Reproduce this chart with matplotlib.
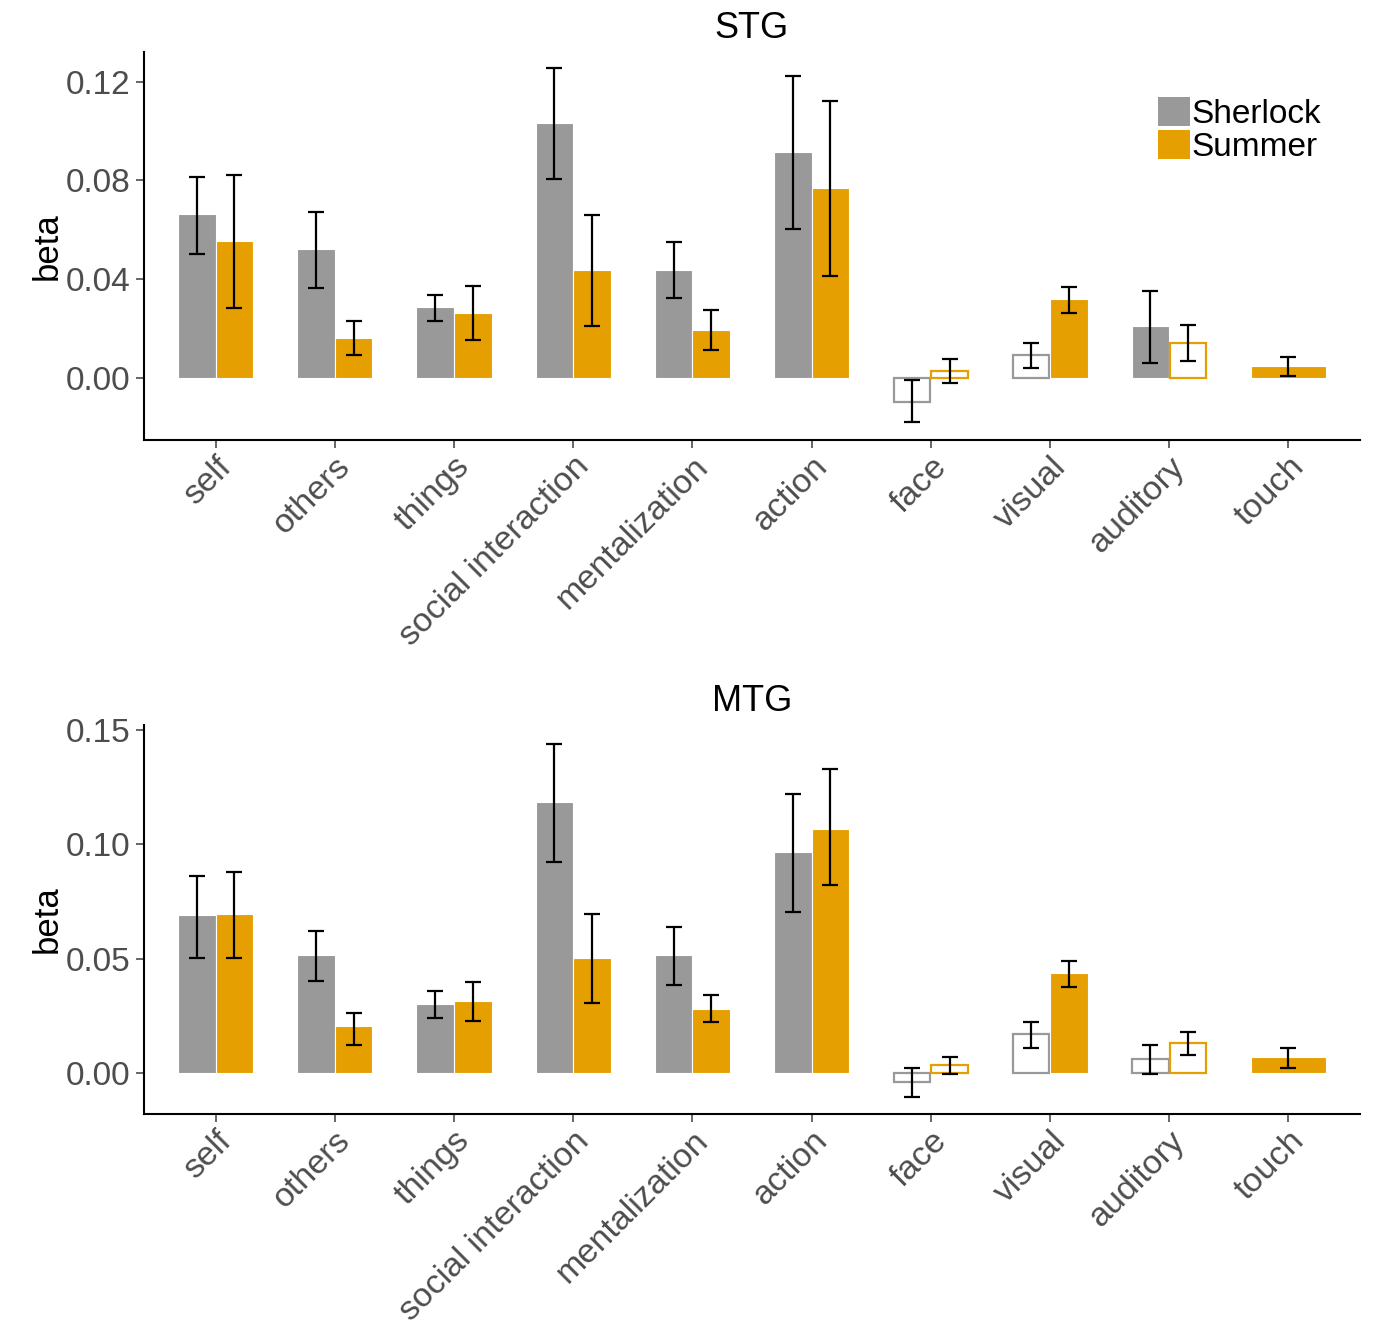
import numpy as np
import matplotlib
matplotlib.use("Agg")
import matplotlib.pyplot as plt
from matplotlib.patches import Patch

plt.rcParams['font.family'] = ['Liberation Sans', 'DejaVu Sans']

categories = ['self', 'others', 'things', 'social interaction', 'mentalization',
              'action', 'face', 'visual', 'auditory', 'touch']
groups = ['Sherlock', 'Summer']
colors = {'Sherlock': '#999999', 'Summer': '#E69F00'}

# STG: mean, upper, lower, significant (None = no data)
stg_sherlock = [0.0665, 0.0523, 0.0288, 0.1034, 0.0438, 0.0916, -0.0097, 0.0093, 0.0211, None]
stg_sherlock_hi = [0.0815, 0.0673, 0.0336, 0.1253, 0.0551, 0.1224, -0.0010, 0.0140, 0.0353, None]
stg_sherlock_lo = [0.0503, 0.0365, 0.0231, 0.0807, 0.0324, 0.0604, -0.0180, 0.0042, 0.0062, None]
stg_sherlock_sig = [True, True, True, True, True, True, False, False, True, None]
stg_summer = [0.0555, 0.0162, 0.0264, 0.0438, 0.0195, 0.0770, 0.0028, 0.0320, 0.0143, 0.0049]
stg_summer_hi = [0.0823, 0.0231, 0.0373, 0.0661, 0.0276, 0.1123, 0.0077, 0.0369, 0.0215, 0.0086]
stg_summer_lo = [0.0284, 0.0093, 0.0154, 0.0211, 0.0114, 0.0414, -0.0020, 0.0264, 0.0069, 0.0009]
stg_summer_sig = [True, True, True, True, True, True, False, True, False, True]

# MTG
mtg_sherlock = [0.0691, 0.0516, 0.0302, 0.1185, 0.0516, 0.0966, -0.0041, 0.0171, 0.0060, None]
mtg_sherlock_hi = [0.0862, 0.0621, 0.0359, 0.1439, 0.0638, 0.1220, 0.0023, 0.0224, 0.0121, None]
mtg_sherlock_lo = [0.0503, 0.0402, 0.0241, 0.0923, 0.0385, 0.0704, -0.0106, 0.0111, -0.0003, None]
mtg_sherlock_sig = [True, True, True, True, True, True, False, False, False, None]
mtg_summer = [0.0695, 0.0206, 0.0315, 0.0503, 0.0280, 0.1067, 0.0035, 0.0437, 0.0133, 0.0069]
mtg_summer_hi = [0.0879, 0.0262, 0.0398, 0.0695, 0.0341, 0.1329, 0.0069, 0.0490, 0.0179, 0.0111]
mtg_summer_lo = [0.0503, 0.0122, 0.0227, 0.0306, 0.0223, 0.0822, -0.0003, 0.0376, 0.0080, 0.0023]
mtg_summer_sig = [True, True, True, True, True, True, False, True, False, True]

GRAY30 = '#4D4D4D'
BAR_W = 0.63


def draw_panel(ax, title, series, yticks, ylim):
    x = np.arange(len(categories))
    for i in range(len(categories)):
        present = [g for g in groups if series[g][0][i] is not None]
        n = len(present)
        w = BAR_W / n
        for k, g in enumerate(present):
            val, hi, lo, sig = (s[i] for s in series[g])
            xc = x[i] - BAR_W / 2 + w * (k + 0.5)
            if sig:
                ax.bar(xc, val, width=w, color=colors[g], edgecolor='white',
                       linewidth=0.8, zorder=2)
            else:
                ax.bar(xc, val, width=w * 0.97, facecolor='white',
                       edgecolor=colors[g], linewidth=1.6, zorder=2)
            ax.errorbar(xc, val, yerr=[[val - lo], [hi - val]], fmt='none',
                        ecolor='black', elinewidth=1.6, capsize=6,
                        capthick=1.6, zorder=3)
    ax.set_xlim(-0.6, len(categories) - 0.4)
    ax.set_ylim(*ylim)
    ax.set_yticks(yticks)
    ax.set_yticklabels(['%.2f' % t for t in yticks])
    ax.set_xticks(x)
    ax.set_xticklabels(categories, rotation=45, ha='right',
                       rotation_mode='anchor', fontsize=24.5)
    ax.tick_params(axis='both', colors=GRAY30, length=6,
                   width=1.2, labelcolor=GRAY30)
    ax.tick_params(axis='y', labelsize=24)
    ax.tick_params(axis='x', pad=2)
    ax.set_ylabel('beta', fontsize=25, color='black', labelpad=2)
    ax.set_title(title, fontsize=26, color='black', pad=10)
    for s in ['top', 'right']:
        ax.spines[s].set_visible(False)
    for s in ['left', 'bottom']:
        ax.spines[s].set_linewidth(1.5)
        ax.spines[s].set_color('black')


fig = plt.figure(figsize=(13.94, 13.34), dpi=100)
ax1 = fig.add_axes([0.1033, 0.6702, 0.8723, 0.2909])
ax2 = fig.add_axes([0.1033, 0.1649, 0.8723, 0.2916])

stg = {'Sherlock': (stg_sherlock, stg_sherlock_hi, stg_sherlock_lo, stg_sherlock_sig),
       'Summer': (stg_summer, stg_summer_hi, stg_summer_lo, stg_summer_sig)}
mtg = {'Sherlock': (mtg_sherlock, mtg_sherlock_hi, mtg_sherlock_lo, mtg_sherlock_sig),
       'Summer': (mtg_summer, mtg_summer_hi, mtg_summer_lo, mtg_summer_sig)}

draw_panel(ax1, 'STG', stg, [0.0, 0.04, 0.08, 0.12], (-0.0251, 0.132))
draw_panel(ax2, 'MTG', mtg, [0.0, 0.05, 0.10, 0.15], (-0.0179, 0.1522))

handles = [Patch(facecolor=colors[g], edgecolor='none', label=g) for g in groups]
ax1.legend(handles=handles, loc='upper left', bbox_to_anchor=(0.834, 0.885),
           frameon=False, fontsize=24, handlelength=0.95, handleheight=0.97,
           handletextpad=0.05, labelspacing=0.0, borderaxespad=0,
           borderpad=0)

fig.savefig('out.png', dpi=100)
